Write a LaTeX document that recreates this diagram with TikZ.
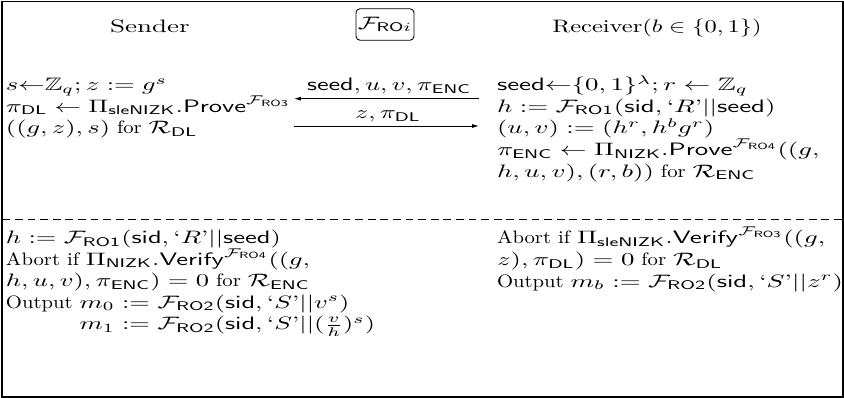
\documentclass[tikz,border=0pt]{standalone}
\usepackage{amsmath,amssymb,graphicx}
\usetikzlibrary{arrows.meta}
\newcommand{\sxl}[1]{\scalebox{1.47}[1]{#1}}
\newcommand{\sxr}[1]{\scalebox{1.49}[1]{#1}}
\newcommand{\sxm}[1]{\scalebox{1.45}[1]{#1}}
\newcommand{\sxt}[1]{\scalebox{1.15}[1]{#1}}
\newcommand{\sfm}[1]{\mathsf{#1}}
\begin{document}
\begin{tikzpicture}[x=0.5556pt,y=-0.5556pt,
  txt/.style={anchor=base west,inner sep=0pt,outer sep=0pt},
  ctr/.style={anchor=base,inner sep=0pt,outer sep=0pt},
  msg/.style={line width=0.5pt,-{Latex[length=3.8pt,width=2.2pt]}},
  frame/.style={line width=0.7pt},
  sep/.style={line width=0.5pt,dash pattern=on 4.3pt off 2.7pt}]
\useasboundingbox (0,0) rectangle (844,398);
\draw[frame] (2,1.5) rectangle (843,397);
% headers
\node[ctr] (sender) at (150,32.5) {\scalebox{1.5}[1]{Sender}};
\node[draw,rounded corners=2.2pt,inner xsep=1pt,inner ysep=0pt,minimum height=17.5pt,line width=0.5pt] (func) at (385,24.5) {\sxm{$\mathcal{F}_{\sfm{RO}i}$}};
\node[ctr] (receiver) at (657,32.5) {\scalebox{1.36}[1]{Receiver$(b\in\{0,1\})$}};
% sender top
\node[txt] (s1) at (6,90.7) {\sxl{$s{\leftarrow}\mathbb{Z}_q; z := g^s$}};
\node[txt] (s2) at (6,112.3) {\sxl{$\pi_{\sfm{DL}} \leftarrow \Pi_{\sfm{sleNIZK}}.\sfm{Prove}^{\mathcal{F}_{\sfm{RO3}}}$}};
\node[txt] (s3) at (6,133.9) {\sxl{$((g,z),s)$}\sxt{ for }\sxl{$\mathcal{R}_{\sfm{DL}}$}};
% receiver top
\node[txt] (r1) at (497,90.7) {\sxr{$\sfm{seed}{\leftarrow}\{0,1\}^\lambda; r \leftarrow \mathbb{Z}_q$}};
\node[txt] (r2) at (497,112.3) {\sxr{$h := \mathcal{F}_{\sfm{RO1}}(\sfm{sid}, \text{`$R$'}||\sfm{seed})$}};
\node[txt] (r3) at (497,133.9) {\sxr{$(u,v) := (h^r, h^b g^r)$}};
\node[txt] (r4) at (497,155.5) {\sxr{$\pi_{\sfm{ENC}} \leftarrow \Pi_{\sfm{NIZK}}.\sfm{Prove}^{\mathcal{F}_{\sfm{RO4}}}((g,$}};
\node[txt] (r5) at (497,177.1) {\sxr{$h,u,v),(r,b))$}\sxt{ for }\sxr{$\mathcal{R}_{\sfm{ENC}}$}};
% messages
\coordinate (m1a) at (479,98.7);
\coordinate (m1b) at (294,98.7);
\coordinate (m2a) at (294,126);
\coordinate (m2b) at (479,126);
\draw[msg] (m1a) -- (m1b);
\draw[msg] (m2a) -- (m2b);
\node[ctr] (l1) at (389,91) {\sxm{$\sfm{seed}, u, v, \pi_{\sfm{ENC}}$}};
\node[ctr] (l2) at (388,119) {\sxm{$z, \pi_{\sfm{DL}}$}};
% separator
\coordinate (d1) at (2.5,219.5);
\coordinate (d2) at (843,219.5);
\draw[sep] (d1) -- (d2);
% sender bottom
\node[txt] (b1) at (6,243.5) {\sxl{$h := \mathcal{F}_{\sfm{RO1}}(\sfm{sid}, \text{`$R$'}||\sfm{seed})$}};
\node[txt] (b2) at (6,265.1) {\sxt{Abort if }\sxl{$\Pi_{\sfm{NIZK}}.\sfm{Verify}^{\mathcal{F}_{\sfm{RO4}}}((g,$}};
\node[txt] (b3) at (6,286.7) {\sxl{$h,u,v),\pi_{\sfm{ENC}}) = 0$}\sxt{ for }\sxl{$\mathcal{R}_{\sfm{ENC}}$}};
\node[txt] (b4) at (6,308.3) {\sxt{Output }\sxl{$m_0 := \mathcal{F}_{\sfm{RO2}}(\sfm{sid}, \text{`$S$'}||v^s)$}};
\node[txt] (b5) at (6,329.9) {\sxt{\phantom{Output }}\sxl{$m_1 := \mathcal{F}_{\sfm{RO2}}(\sfm{sid}, \text{`$S$'}||(\frac{v}{h})^s)$}};
% receiver bottom
\node[txt] (c1) at (497,244) {\sxt{Abort if }\sxr{$\Pi_{\sfm{sleNIZK}}.\sfm{Verify}^{\mathcal{F}_{\sfm{RO3}}}((g,$}};
\node[txt] (c2) at (497,265.6) {\sxr{$z),\pi_{\sfm{DL}}) = 0$}\sxt{ for }\sxr{$\mathcal{R}_{\sfm{DL}}$}};
\node[txt] (c3) at (497,287.2) {\sxt{Output }\sxr{$m_b := \mathcal{F}_{\sfm{RO2}}(\sfm{sid}, \text{`$S$'}||z^r)$}};
\end{tikzpicture}
\end{document}
